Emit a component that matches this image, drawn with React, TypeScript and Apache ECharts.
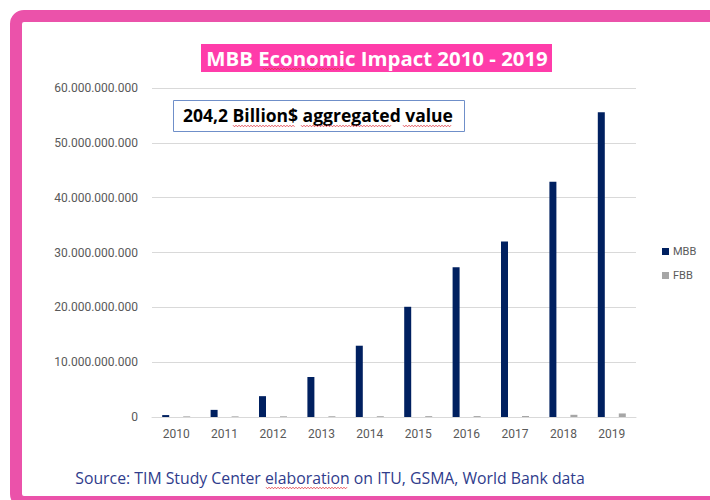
import React, { useEffect, useRef } from "react";
import * as echarts from "echarts";

const years = ["2010", "2011", "2012", "2013", "2014", "2015", "2016", "2017", "2018", "2019"];
const mbbValues = [0.35e9, 1.3e9, 3.8e9, 7.3e9, 13.0e9, 20.1e9, 27.3e9, 32.0e9, 42.9e9, 55.6e9];
const fbbValues = [0.12e9, 0.12e9, 0.13e9, 0.14e9, 0.15e9, 0.16e9, 0.17e9, 0.18e9, 0.4e9, 0.65e9];
const titleText = "MBB Economic Impact 2010 - 2019";
const noteText = "204,2 Billion$ aggregated value";
const sourceText = "Source: TIM Study Center elaboration on ITU, GSMA, World Bank data";

function squiggle(x1: number, x2: number, y: number) {
  const pts: number[][] = [];
  let up = true;
  for (let x = x1; x <= x2; x += 1.5) {
    pts.push([x, up ? y - 0.8 : y + 0.8]);
    up = !up;
  }
  return {
    type: "polyline",
    silent: true,
    shape: { points: pts },
    style: { stroke: "#E0303A", lineWidth: 0.8, fill: null },
    z: 20,
  };
}

function fmt(v: number) {
  return String(Math.round(v)).replace(/\B(?=(\d{3})+(?!\d))/g, ".");
}

export default function App() {
  const ref = useRef<HTMLDivElement>(null);
  useEffect(() => {
    if (!ref.current) return;
    const chart = echarts.init(ref.current, null, { renderer: "svg" });
    chart.setOption({
      animation: false,
      backgroundColor: "#ffffff",
      textStyle: { fontFamily: "Roboto, sans-serif" },
      grid: { left: 152, right: 74, top: 88, bottom: 83 },
      legend: {
        orient: "vertical",
        left: 657,
        top: 241,
        itemWidth: 7,
        itemHeight: 7,
        itemGap: 13,
        icon: "rect",
        textStyle: { color: "#595959", fontSize: 11, padding: [0, 0, 0, -1] },
        data: ["MBB", "FBB"],
      },
      xAxis: {
        type: "category",
        data: years,
        axisLine: { lineStyle: { color: "#d9d9d9" } },
        axisTick: { show: false },
        axisLabel: { color: "#595959", fontSize: 12, margin: 11 },
      },
      yAxis: {
        type: "value",
        min: 0,
        max: 60e9,
        interval: 10e9,
        axisLine: { show: false },
        axisTick: { show: false },
        splitLine: { lineStyle: { color: "#d9d9d9" } },
        axisLabel: { color: "#595959", fontSize: 12, margin: 14, formatter: (v: number) => fmt(v) },
      },
      series: [
        {
          name: "MBB",
          type: "bar",
          data: mbbValues,
          barWidth: 7,
          barGap: "200%",
          itemStyle: { color: "#002060" },
        },
        {
          name: "FBB",
          type: "bar",
          data: fbbValues,
          barWidth: 7,
          itemStyle: { color: "#A6A6A6" },
        },
      ],
      graphic: [
        {
          type: "rect",
          silent: true,
          shape: { x: 16, y: 16, width: 740, height: 486, r: 8 },
          style: { fill: null, stroke: "#EB52AA", lineWidth: 12 },
          z: 30,
        },
        {
          type: "rect",
          silent: true,
          shape: { x: 201, y: 44, width: 351, height: 28 },
          style: { fill: "#FF3CAA" },
          z: 10,
        },
        {
          type: "text",
          silent: true,
          x: 377,
          y: 58,
          style: {
            text: titleText,
            fill: "#ffffff",
            font: "bold 20.4px 'Open Sans', sans-serif",
            align: "center",
            verticalAlign: "middle",
          },
          z: 11,
        },
        squiggle(263, 344, 69),
        {
          type: "rect",
          silent: true,
          shape: { x: 173.5, y: 100.5, width: 291, height: 31 },
          style: { fill: "#ffffff", stroke: "#6F8FC9", lineWidth: 1 },
          z: 10,
        },
        {
          type: "text",
          silent: true,
          x: 318,
          y: 115,
          style: {
            text: noteText,
            fill: "#000000",
            font: "bold 17.5px 'Open Sans', sans-serif",
            align: "center",
            verticalAlign: "middle",
          },
          z: 11,
        },
        squiggle(233, 295, 126),
        squiggle(301, 392, 126),
        squiggle(403, 452, 126),
        {
          type: "text",
          silent: true,
          x: 330,
          y: 478,
          style: {
            text: sourceText,
            fill: "#2F3C8C",
            font: "15.8px 'Open Sans', sans-serif",
            align: "center",
            verticalAlign: "middle",
          },
          z: 11,
        },
        squiggle(266, 347, 488),
      ],
    });
    return () => chart.dispose();
  }, []);
  return (
    <div
      ref={ref}
      style={{ position: "fixed", left: 0, top: 0, width: 710, height: 500 }}
    />
  );
}
